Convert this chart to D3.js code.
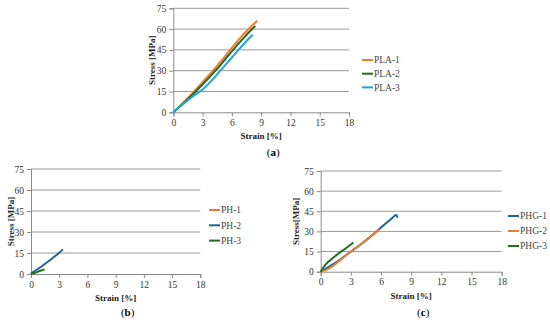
<!DOCTYPE html>
<html>
<head>
<meta charset="utf-8">
<script src="https://cdn.jsdelivr.net/npm/d3@7/dist/d3.min.js"></script>
<style>
  body { margin: 0; background: #fff; }
  text { font-family: "Liberation Serif", "DejaVu Serif", serif; }
  .tick text { font-size: 9.5px; fill: #333; }
  .title { font-size: 9px; font-weight: bold; fill: #222; }
  .legend { font-size: 9.5px; fill: #444; }
  .caption { font-size: 11px; fill: #000; }
</style>
</head>
<body>
<svg id="chart" width="550" height="321"></svg>
<script>
// axis ticks shared by all three panels
var xTicks = [0, 3, 6, 9, 12, 15, 18];
var yTicks = [0, 15, 30, 45, 60, 75];

// (a) PLA specimens  [strain %, stress MPa]
var pla1 = [[0,0],[1,6.8],[2,14],[3,21.8],[4,29.5],[5,37.8],[6,46.5],[7,54.8],[8,62],[8.6,66]];
var pla2 = [[0,0],[1,6.4],[2,13],[3,20],[4,27.5],[5,35.5],[6,44],[7,52],[8,59.5],[8.4,62.3]];
var pla3 = [[0,0],[1,6],[2,11.5],[3,16.5],[4,23.5],[5,31.5],[6,39.5],[7,47.5],[8,55],[8.15,56]];

// (b) PH specimens
var ph1 = [[0,0],[0.2,0.4]];
var ph2 = [[0,0.5],[1,4.8],[2,9.8],[3,15.2],[3.4,17.6]];
var ph3 = [[0,0],[0.5,1],[1,2.3],[1.45,3.3]];

// (c) PHG specimens
var phg1 = [[0,0],[1,4.5],[2,9.5],[3,15],[4,20.5],[5,26.5],[6,33],[7,39.3],[7.5,42.3],[7.65,40.2]];
var phg2 = [[0,0],[0.5,1.2],[1,3.2],[2,9],[3,15],[4,20.5],[5,26.3],[5.8,31.5]];
var phg3 = [[0,0],[0.3,3.5],[0.7,7],[1.5,12],[2.5,17.5],[3.25,21.8]];

var orange = "#ee7d31", green = "#1f6e22", lightBlue = "#1ea4dd", darkBlue = "#1d6596";

var panels = [
  {
    box: { left: 173.3, right: 349, top: 8.3, bottom: 112.3 },
    series: [
      { name: "PLA-1", data: pla1, color: orange },
      { name: "PLA-2", data: pla2, color: green },
      { name: "PLA-3", data: pla3, color: lightBlue }
    ],
    drawOrder: [0, 1, 2],
    legend: { x: 362, y: 60, step: 13.7 },
    yName: "Stress [MPa]", yNameX: 151.5,
    caption: "a", captionY: 156
  },
  {
    box: { left: 31, right: 200.3, top: 169, bottom: 274 },
    series: [
      { name: "PH-1", data: ph1, color: orange },
      { name: "PH-2", data: ph2, color: darkBlue },
      { name: "PH-3", data: ph3, color: green }
    ],
    drawOrder: [0, 1, 2],
    legend: { x: 209, y: 210, step: 15.3 },
    yName: "Stress [MPa]", yNameX: 10.5,
    caption: "b", captionY: 316
  },
  {
    box: { left: 320.7, right: 501.7, top: 171, bottom: 271.7 },
    series: [
      { name: "PHG-1", data: phg1, color: darkBlue },
      { name: "PHG-2", data: phg2, color: orange },
      { name: "PHG-3", data: phg3, color: green }
    ],
    drawOrder: [0, 1, 2],
    legend: { x: 508, y: 216, step: 15 },
    yName: "Stress[MPa]", yNameX: 296,
    caption: "c", captionY: 316
  }
];

var svg = d3.select("#chart");

panels.forEach(function (p) {
  var b = p.box;
  var x = d3.scaleLinear().domain([0, 18]).range([b.left, b.right]);
  var y = d3.scaleLinear().domain([0, 75]).range([b.bottom, b.top]);
  var g = svg.append("g");

  // horizontal gridlines
  g.selectAll(".grid").data(yTicks.slice(1)).enter().append("line")
    .attr("x1", b.left).attr("x2", b.right)
    .attr("y1", function (d) { return y(d); }).attr("y2", function (d) { return y(d); })
    .attr("stroke", "#9a9a9a").attr("stroke-width", 1);

  var xAxis = g.append("g")
    .attr("transform", "translate(0," + b.bottom + ")")
    .call(d3.axisBottom(x).tickValues(xTicks).tickSize(4).tickPadding(3));
  var yAxis = g.append("g")
    .attr("transform", "translate(" + b.left + ",0)")
    .call(d3.axisLeft(y).tickValues(yTicks).tickSize(4).tickPadding(3));
  [xAxis, yAxis].forEach(function (a) {
    a.select(".domain").attr("stroke", "#8a8a8a");
    a.selectAll(".tick line").attr("stroke", "#8a8a8a");
  });

  var line = d3.line()
    .x(function (d) { return x(d[0]); })
    .y(function (d) { return y(d[1]); })
    .curve(d3.curveCatmullRom);

  p.drawOrder.forEach(function (i) {
    var s = p.series[i];
    g.append("path")
      .datum(s.data)
      .attr("fill", "none")
      .attr("stroke", s.color)
      .attr("stroke-width", 2)
      .attr("stroke-linejoin", "round")
      .attr("d", line);
  });

  // legend
  p.series.forEach(function (s, i) {
    var ly = p.legend.y + i * p.legend.step;
    g.append("line")
      .attr("x1", p.legend.x).attr("x2", p.legend.x + 11)
      .attr("y1", ly).attr("y2", ly)
      .attr("stroke", s.color).attr("stroke-width", 2);
    g.append("text").attr("class", "legend")
      .attr("x", p.legend.x + 12).attr("y", ly + 3.3)
      .text(s.name);
  });

  g.append("text").attr("class", "title")
    .attr("x", (b.left + b.right) / 2).attr("y", b.bottom + 27)
    .attr("text-anchor", "middle")
    .text("Strain [%]");

  g.append("text").attr("class", "title")
    .attr("transform", "translate(" + (p.yNameX + 3) + "," + ((b.top + b.bottom) / 2) + ") rotate(-90)")
    .attr("text-anchor", "middle")
    .text(p.yName);

  var cap = g.append("text").attr("class", "caption")
    .attr("x", (b.left + b.right) / 2 + 12).attr("y", p.captionY)
    .attr("text-anchor", "middle");
  cap.append("tspan").text("(");
  cap.append("tspan").attr("font-weight", "bold").text(p.caption);
  cap.append("tspan").text(")");
});
</script>
</body>
</html>
